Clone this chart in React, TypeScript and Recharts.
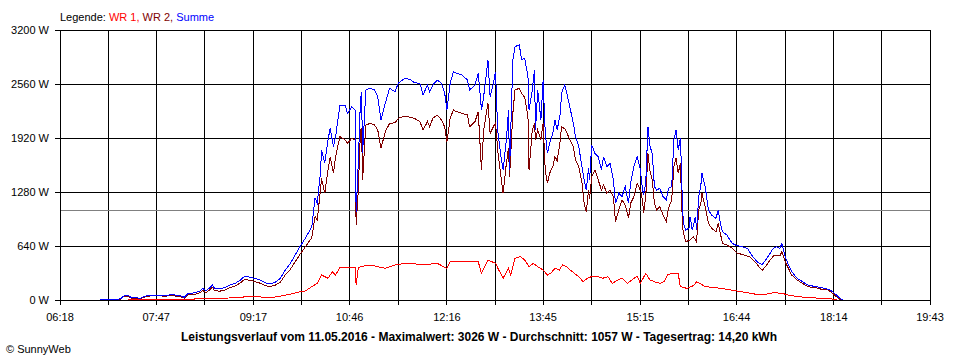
import { LineChart, Line, XAxis, YAxis, CartesianGrid, ReferenceLine } from "recharts";

type Sample = [string, number];

// axis labels as printed on the chart
const timeLabels = ["06:18", "07:47", "09:17", "10:46", "12:16", "13:45", "15:15", "16:44", "18:14", "19:43"];
const powerTicks = [0, 640, 1280, 1920, 2560, 3200];
const averageWatts = 1057;

// WR 1 (red)
const wr1: Sample[] = [
  ["07:21", 8], ["08:22", 8], ["08:23", 20], ["09:05", 25], ["09:09", 40], ["09:35", 32], ["09:42", 47],
  ["09:51", 67], ["10:00", 99], ["10:05", 107], ["10:11", 158], ["10:16", 197], ["10:20", 296], ["10:26", 257],
  ["10:30", 336], ["10:33", 296], ["10:37", 387], ["10:46", 383], ["10:51", 380], ["10:52", 178], ["10:54", 380],
  ["10:56", 395], ["11:05", 415], ["11:19", 375], ["11:28", 415], ["11:37", 435], ["11:46", 430], ["11:54", 415],
  ["12:07", 435], ["12:16", 375], ["12:19", 454], ["12:30", 454], ["12:45", 454], ["12:48", 316], ["12:54", 474],
  ["13:01", 435], ["13:04", 356], ["13:08", 257], ["13:13", 375], ["13:15", 296], ["13:19", 494], ["13:24", 514],
  ["13:28", 474], ["13:32", 395], ["13:36", 435], ["13:40", 395], ["13:45", 356], ["13:49", 296], ["13:52", 316],
  ["13:56", 375], ["14:00", 356], ["14:03", 415], ["14:07", 395], ["14:10", 356], ["14:14", 316], ["14:18", 277],
  ["14:22", 217], ["14:26", 257], ["14:31", 284], ["14:36", 277], ["14:40", 257], ["14:45", 277], ["14:49", 197],
  ["14:54", 237], ["14:58", 257], ["15:03", 197], ["15:07", 237], ["15:12", 285], ["15:15", 197], ["15:20", 316],
  ["15:24", 237], ["15:28", 217], ["15:33", 197], ["15:37", 217], ["15:40", 296], ["15:44", 316], ["15:50", 316],
  ["15:52", 158], ["15:58", 138], ["16:02", 158], ["16:05", 178], ["16:07", 217], ["16:10", 197], ["16:15", 158],
  ["16:22", 150], ["16:30", 138], ["16:39", 118], ["16:48", 99], ["16:57", 79], ["17:06", 59], ["17:12", 71],
  ["17:19", 87], ["17:26", 79], ["17:32", 59], ["17:41", 40], ["17:50", 28], ["18:04", 20], ["18:12", 12], ["18:17", 0],
];

// WR 2 (dark red)
const wr2: Sample[] = [
  ["07:10", 0], ["07:14", 10], ["07:17", 40], ["07:21", 45], ["07:25", 18], ["07:28", 20], ["07:32", 15], ["07:38", 42],
  ["07:43", 50], ["07:49", 50], ["07:55", 45], ["08:02", 52], ["08:09", 40], ["08:13", 22], ["08:16", 58], ["08:23", 68],
  ["08:28", 90], ["08:30", 115], ["08:33", 85], ["08:37", 125], ["08:39", 150], ["08:41", 110], ["08:46", 105],
  ["08:51", 120], ["08:55", 145], ["09:00", 165], ["09:05", 205], ["09:09", 245], ["09:14", 232], ["09:18", 220],
  ["09:23", 200], ["09:28", 170], ["09:32", 158], ["09:37", 174], ["09:42", 212], ["09:46", 290], ["09:51", 360],
  ["10:00", 540], ["10:05", 630], ["10:11", 740], ["10:14", 990], ["10:16", 950], ["10:19", 1300], ["10:20", 1440],
  ["10:23", 1264], ["10:26", 1541], ["10:28", 1699], ["10:31", 1501], ["10:33", 1699], ["10:37", 1936], ["10:42", 1896],
  ["10:44", 1857], ["10:48", 1916], ["10:51", 1900], ["10:52", 889], ["10:54", 1300], ["10:56", 2000], ["10:57", 2040],
  ["10:58", 1422], ["11:01", 2074], ["11:05", 2094], ["11:09", 2074], ["11:12", 2015], ["11:15", 1798], ["11:19", 1995],
  ["11:23", 2094], ["11:28", 2100], ["11:31", 2153], ["11:37", 2181], ["11:42", 2165], ["11:46", 2153], ["11:51", 2114],
  ["11:54", 2015], ["11:58", 2114], ["12:00", 2054], ["12:03", 2153], ["12:07", 2193], ["12:11", 2133], ["12:14", 2050],
  ["12:16", 1876], ["12:19", 2153], ["12:22", 2252], ["12:25", 2232], ["12:30", 2212], ["12:35", 2193], ["12:37", 2054],
  ["12:42", 2114], ["12:45", 2232], ["12:48", 1541], ["12:50", 2015], ["12:54", 2331], ["12:56", 1975], ["12:59", 2054],
  ["13:01", 2100], ["13:03", 1778], ["13:06", 1462], ["13:08", 1264], ["13:11", 1620], ["13:13", 1800], ["13:14", 1462],
  ["13:17", 2212], ["13:19", 2489], ["13:23", 2509], ["13:25", 2449], ["13:28", 2400], ["13:31", 2173], ["13:32", 1541],
  ["13:35", 2015], ["13:37", 2094], ["13:38", 1896], ["13:40", 2015], ["13:43", 1900], ["13:45", 2094], ["13:47", 1541],
  ["13:49", 1383], ["13:51", 1501], ["13:54", 1580], ["13:56", 1699], ["13:58", 1650], ["14:01", 1896], ["14:02", 2054],
  ["14:05", 2030], ["14:07", 1980], ["14:10", 1896], ["14:13", 1817], ["14:15", 1659], ["14:18", 1580], ["14:21", 1383],
  ["14:23", 1146], ["14:25", 1047], ["14:27", 1304], ["14:28", 1200], ["14:30", 1462], ["14:33", 1541], ["14:36", 1422],
  ["14:39", 1304], ["14:41", 1363], ["14:44", 1264], ["14:47", 1304], ["14:50", 1225], ["14:52", 928], ["14:55", 1067],
  ["14:58", 1185], ["15:01", 1126], ["15:04", 968], ["15:06", 1146], ["15:09", 1225], ["15:12", 1383], ["15:15", 1300],
  ["15:17", 1185], ["15:18", 1027], ["15:20", 1225], ["15:22", 1738], ["15:24", 1521], ["15:26", 1422], ["15:28", 1146],
  ["15:30", 1067], ["15:33", 1106], ["15:36", 1007], ["15:39", 928], ["15:41", 1087], ["15:44", 1185], ["15:46", 1580],
  ["15:48", 1679], ["15:50", 1501], ["15:52", 1620], ["15:54", 869], ["15:55", 790], ["15:57", 691], ["16:01", 711],
  ["16:04", 750], ["16:07", 691], ["16:09", 1067], ["16:11", 1146], ["16:12", 1264], ["16:15", 1106], ["16:18", 909],
  ["16:21", 850], ["16:25", 810], ["16:27", 909], ["16:29", 790], ["16:31", 672], ["16:35", 652], ["16:40", 613],
  ["16:44", 560], ["16:49", 540], ["16:56", 514], ["17:01", 454], ["17:06", 375], ["17:08", 356], ["17:12", 415],
  ["17:15", 474], ["17:19", 533], ["17:24", 521], ["17:26", 573], ["17:29", 454], ["17:32", 375], ["17:35", 296],
  ["17:40", 237], ["17:45", 197], ["17:50", 158], ["17:57", 146], ["18:03", 126], ["18:09", 118], ["18:13", 79],
  ["18:18", 20], ["18:21", 0],
];

// Summe (blue)
const summe: Sample[] = [
  ["06:55", 8], ["07:03", 8], ["07:05", 2], ["07:10", 6], ["07:14", 15], ["07:17", 47], ["07:21", 51], ["07:25", 24],
  ["07:28", 28], ["07:32", 20], ["07:38", 51], ["07:43", 59], ["07:49", 59], ["07:55", 55], ["08:02", 63], ["08:09", 51],
  ["08:13", 32], ["08:16", 71], ["08:23", 87], ["08:28", 110], ["08:30", 138], ["08:33", 110], ["08:37", 150],
  ["08:39", 178], ["08:41", 138], ["08:46", 134], ["08:51", 150], ["08:55", 178], ["09:00", 197], ["09:05", 237],
  ["09:09", 284], ["09:14", 269], ["09:18", 257], ["09:23", 237], ["09:28", 205], ["09:32", 190], ["09:37", 209],
  ["09:42", 257], ["09:46", 348], ["09:51", 430], ["10:00", 632], ["10:05", 731], ["10:11", 869], ["10:14", 1209],
  ["10:16", 1150], ["10:19", 1505], ["10:20", 1778], ["10:23", 1624], ["10:26", 1896], ["10:28", 2039], ["10:31", 1817],
  ["10:33", 1936], ["10:37", 2311], ["10:42", 2311], ["10:44", 2212], ["10:48", 2291], ["10:51", 2252], ["10:52", 1047],
  ["10:54", 1620], ["10:56", 2370], ["10:57", 2469], ["10:58", 1742], ["11:01", 2489], ["11:05", 2509], ["11:09", 2489],
  ["11:12", 2410], ["11:15", 2133], ["11:19", 2331], ["11:23", 2509], ["11:28", 2469], ["11:31", 2568], ["11:37", 2627],
  ["11:42", 2615], ["11:46", 2576], ["11:51", 2568], ["11:54", 2430], ["11:58", 2548], ["12:00", 2469], ["12:03", 2548],
  ["12:07", 2607], ["12:11", 2568], ["12:14", 2449], ["12:16", 2252], ["12:19", 2568], ["12:22", 2706], ["12:25", 2686],
  ["12:30", 2667], ["12:35", 2607], ["12:37", 2489], ["12:42", 2548], ["12:45", 2686], ["12:48", 2252], ["12:50", 2410],
  ["12:54", 2844], ["12:56", 2410], ["12:59", 2568], ["13:01", 2706], ["13:03", 2015], ["13:06", 1699], ["13:08", 1541],
  ["13:11", 1896], ["13:13", 2252], ["13:14", 1541], ["13:17", 2844], ["13:19", 3002], ["13:23", 3026], ["13:25", 2850],
  ["13:28", 2864], ["13:31", 2647], ["13:32", 2252], ["13:35", 2489], ["13:37", 2726], ["13:38", 2015], ["13:40", 2489],
  ["13:43", 2133], ["13:45", 2607], ["13:47", 1975], ["13:49", 1738], ["13:51", 1857], ["13:54", 1975], ["13:56", 2133],
  ["13:58", 2015], ["14:01", 2212], ["14:02", 2449], ["14:05", 2548], ["14:07", 2449], ["14:10", 2272], ["14:13", 2094],
  ["14:15", 1936], ["14:18", 1817], ["14:21", 1580], ["14:23", 1422], ["14:25", 1304], ["14:27", 1561], ["14:28", 1422],
  ["14:30", 1837], ["14:33", 1738], ["14:36", 1699], ["14:39", 1541], ["14:41", 1699], ["14:44", 1580], ["14:47", 1620],
  ["14:50", 1422], ["14:52", 1146], ["14:55", 1264], ["14:58", 1225], ["15:01", 1343], ["15:04", 1146], ["15:06", 1383],
  ["15:09", 1580], ["15:12", 1699], ["15:15", 1550], ["15:17", 1300], ["15:18", 1264], ["15:20", 1383], ["15:22", 2054],
  ["15:24", 1817], ["15:26", 1738], ["15:28", 1343], ["15:30", 1304], ["15:33", 1323], ["15:36", 1225], ["15:39", 1185],
  ["15:41", 1323], ["15:44", 1343], ["15:46", 1896], ["15:48", 2015], ["15:50", 1778], ["15:52", 1916], ["15:53", 1580],
  ["15:54", 1067], ["15:55", 909], ["15:57", 830], ["16:00", 850], ["16:01", 988], ["16:03", 830], ["16:06", 988],
  ["16:07", 830], ["16:09", 1225], ["16:11", 1363], ["16:12", 1501], ["16:15", 1343], ["16:18", 1067], ["16:21", 1007],
  ["16:25", 968], ["16:27", 1067], ["16:29", 909], ["16:31", 810], ["16:35", 770], ["16:40", 672], ["16:44", 645],
  ["16:49", 632], ["16:54", 613], ["16:56", 573], ["16:59", 514], ["17:03", 454], ["17:06", 427], ["17:08", 423],
  ["17:12", 494], ["17:15", 553], ["17:18", 613], ["17:21", 632], ["17:24", 613], ["17:26", 672], ["17:29", 514],
  ["17:32", 415], ["17:35", 336], ["17:40", 257], ["17:45", 217], ["17:50", 178], ["17:57", 158], ["18:03", 146],
  ["18:09", 126], ["18:13", 99], ["18:18", 40], ["18:22", 0],
];

const FONT = "'Liberation Sans', Arial, sans-serif";

const toMin = (s: string) => {
  const [h, m] = s.split(":").map(Number);
  return h * 60 + m;
};
const toPoints = (rows: Sample[]) => rows.map(([t, w]) => ({ t: toMin(t), w }));

const labelMins = timeLabels.map(toMin);
// a grid line between every two labelled times
const timeTicks = labelMins.flatMap((m, i) => (i === 0 ? [m] : [(labelMins[i - 1] + m) / 2, m]));
const labelByMin = new Map(labelMins.map((m, i) => [m, timeLabels[i]]));

const tickStyle = { fill: "#000", fontSize: 11, fontFamily: FONT };
const crisp = { shapeRendering: "crispEdges" } as const;

export default function App() {
  return (
    <div style={{ position: "absolute", left: 0, top: 0, width: 960, height: 360, background: "#fff" }}>
      <LineChart width={960} height={360} margin={{ top: 30, right: 30, bottom: 0, left: 0 }} style={crisp}>
        <CartesianGrid stroke="#000" strokeWidth={1} />
        <XAxis
          type="number"
          dataKey="t"
          domain={[labelMins[0], labelMins[labelMins.length - 1]]}
          ticks={timeTicks}
          tickFormatter={(v: number) => labelByMin.get(v) ?? ""}
          height={60}
          tickSize={5}
          tickMargin={8}
          stroke="#000"
          tick={tickStyle}
          interval={0}
          allowDataOverflow
        />
        <YAxis
          type="number"
          domain={[0, 3200]}
          ticks={powerTicks}
          tickFormatter={(v: number) => `${v} W`}
          width={60}
          tickSize={5}
          tickMargin={6}
          stroke="#000"
          tick={tickStyle}
          interval={0}
        />
        <ReferenceLine y={averageWatts} stroke="#808080" strokeWidth={1} />
        <Line data={toPoints(wr1)} dataKey="w" stroke="#ff0000" strokeWidth={1} dot={false} isAnimationActive={false} />
        <Line data={toPoints(wr2)} dataKey="w" stroke="#800000" strokeWidth={1} dot={false} isAnimationActive={false} />
        <Line data={toPoints(summe)} dataKey="w" stroke="#0000ff" strokeWidth={1} dot={false} isAnimationActive={false} />
      </LineChart>
      <svg
        width={960}
        height={360}
        style={{ position: "absolute", left: 0, top: 0, pointerEvents: "none" }}
        fontFamily={FONT}
        fontSize={11}
      >
        <text x={60} y={21}>
          <tspan fill="#000">Legende: </tspan>
          <tspan fill="#ff0000">WR 1,</tspan>
          <tspan fill="#800000"> WR 2,</tspan>
          <tspan fill="#0000ff"> Summe</tspan>
        </text>
        <text x={479} y={341} textAnchor="middle" fontWeight="bold" fontSize={12} fill="#000">
          Leistungsverlauf vom 11.05.2016 - Maximalwert: 3026 W - Durchschnitt: 1057 W - Tagesertrag: 14,20 kWh
        </text>
        <text x={6} y={353} fill="#000">
          © SunnyWeb
        </text>
      </svg>
    </div>
  );
}
